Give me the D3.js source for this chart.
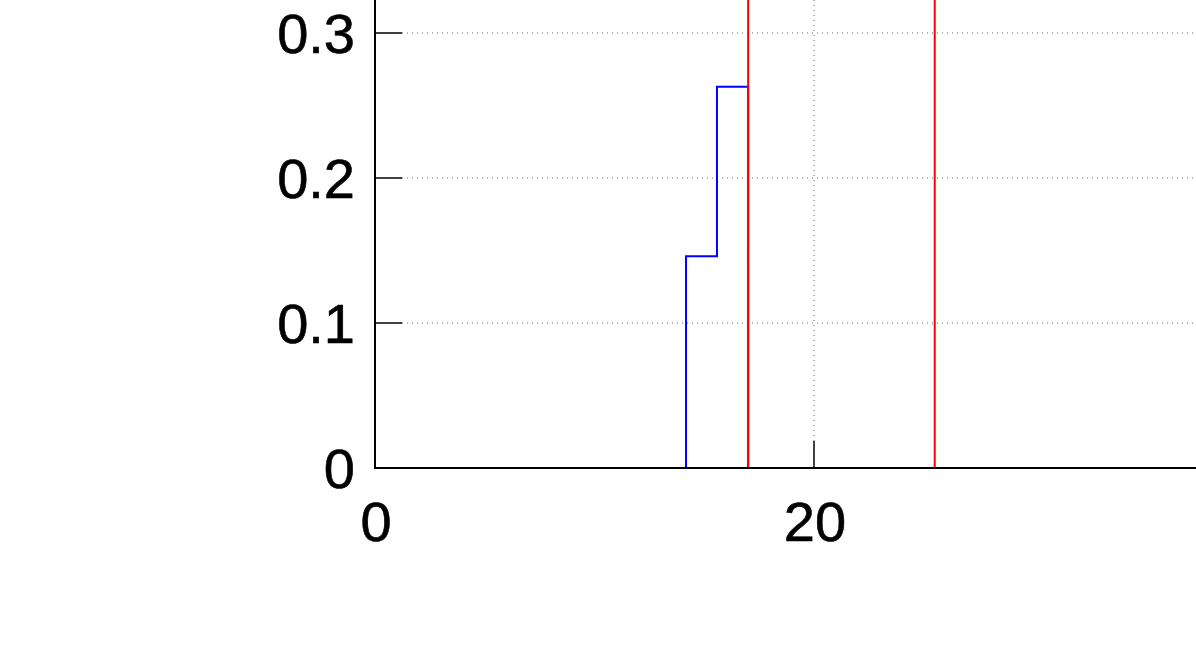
<!DOCTYPE html>
<meta charset="utf-8">
<style>
body { margin: 0; background: #fff; overflow: hidden; }
svg { display: block; }
.tick-label { font-family: "Liberation Sans", Arial, sans-serif; font-size: 56px; fill: #000; stroke: #000; stroke-width: 0.6; }
.grid line { stroke: #666; stroke-width: 1; stroke-dasharray: 1,4; }
</style>
<script src="https://d3js.org/d3.v7.min.js"></script>
<svg id="chart" width="1196" height="665"></svg>
<script>

// histogram bins (edges + heights) and the two reference lines
var binEdges = [14.17, 15.58, 17.0];
var binValues = [0.146, 0.263];
var refLines = [17.0, 25.5];
var xTicks = [0, 20];
var yTicks = [0, 0.1, 0.2, 0.3];

var svg = d3.select("svg#chart");

// plot area runs past the window edges (picture is cropped)
var x = d3.scaleLinear().domain([0, 40]).range([375, 1253]);
var y = d3.scaleLinear().domain([0, 0.4]).range([468, -112]);

var tickLen = 27;

// grid
var grid = svg.append("g").attr("class", "grid");
grid.selectAll("line.h")
  .data(yTicks.filter(function(d) { return d > 0; }))
  .enter().append("line")
    .attr("class", "h")
    .attr("x1", x(0) + tickLen).attr("x2", x(40))
    .attr("y1", function(d) { return y(d); })
    .attr("y2", function(d) { return y(d); });
grid.selectAll("line.v")
  .data(xTicks.filter(function(d) { return d > 0; }))
  .enter().append("line")
    .attr("class", "v")
    .attr("x1", function(d) { return x(d); })
    .attr("x2", function(d) { return x(d); })
    .attr("y1", y(0) - tickLen).attr("y2", y(0.4));

// ticks
svg.append("g").selectAll("line")
  .data(yTicks)
  .enter().append("line")
    .attr("x1", x(0)).attr("x2", x(0) + tickLen)
    .attr("y1", function(d) { return y(d); })
    .attr("y2", function(d) { return y(d); })
    .attr("stroke", "#000").attr("stroke-width", 1.5);
svg.append("g").selectAll("line")
  .data(xTicks)
  .enter().append("line")
    .attr("x1", function(d) { return x(d); })
    .attr("x2", function(d) { return x(d); })
    .attr("y1", y(0)).attr("y2", y(0) - tickLen)
    .attr("stroke", "#000").attr("stroke-width", 1.5);

// tick labels
svg.append("g").selectAll("text")
  .data(yTicks)
  .enter().append("text")
    .attr("class", "tick-label")
    .attr("x", 355)
    .attr("y", function(d) { return y(d); })
    .attr("dy", "0.36em")
    .attr("text-anchor", "end")
    .text(function(d) { return d === 0 ? "0" : d3.format(".1f")(d); });
svg.append("g").selectAll("text")
  .data(xTicks)
  .enter().append("text")
    .attr("class", "tick-label")
    .attr("x", function(d) { return x(d) + 1; })
    .attr("y", 541)
    .attr("text-anchor", "middle")
    .text(function(d) { return d; });

// histogram as a step outline
var pts = [[binEdges[0], 0]];
binValues.forEach(function(v, i) {
  pts.push([binEdges[i], v]);
  pts.push([binEdges[i + 1], v]);
});
pts.push([binEdges[binEdges.length - 1], 0]);

var line = d3.line()
  .x(function(d) { return x(d[0]); })
  .y(function(d) { return y(d[1]); });

svg.append("path")
  .datum(pts)
  .attr("d", line)
  .attr("fill", "none")
  .attr("stroke", "#0000ff")
  .attr("stroke-width", 2);

// reference lines
svg.append("g").selectAll("line")
  .data(refLines)
  .enter().append("line")
    .attr("x1", function(d) { return x(d); })
    .attr("x2", function(d) { return x(d); })
    .attr("y1", y(0)).attr("y2", y(0.4))
    .attr("stroke", "#ff0000")
    .attr("stroke-width", 2);

// axes border (left + bottom)
svg.append("path")
  .attr("d", "M" + x(0) + "," + y(0.4) + "V" + y(0) + "H" + x(40))
  .attr("fill", "none")
  .attr("stroke", "#000")
  .attr("stroke-width", 2);

</script>
